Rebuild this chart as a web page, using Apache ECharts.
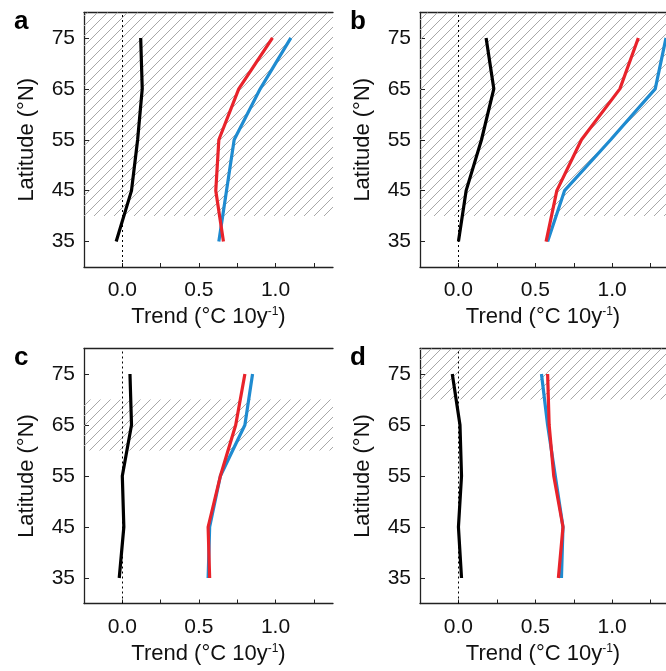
<!DOCTYPE html>
<html lang="en">
<head>
<meta charset="UTF-8">
<title>Latitude trend profiles</title>
<style>
  html, body { margin: 0; padding: 0; background: #fff; }
  #chart { width: 666px; height: 671px; }
</style>
</head>
<body>
<div id="chart"></div>
<script src="https://cdn.jsdelivr.net/npm/echarts@6/dist/echarts.min.js"></script>
<script>
// latitude levels (°N)
var lats = [35, 45, 55, 65, 75];

// trends (°C per decade), one value per latitude
var aBlack = [-0.04, 0.06, 0.10, 0.13, 0.12];
var aBlue  = [0.63, 0.68, 0.73, 0.90, 1.10];
var aRed   = [0.66, 0.61, 0.63, 0.76, 0.98];

var bBlack = [0.00, 0.05, 0.15, 0.23, 0.18];
var bBlue  = [0.58, 0.69, 0.99, 1.28, 1.35];
var bRed   = [0.57, 0.64, 0.80, 1.05, 1.17];

var cBlack = [-0.02, 0.01, 0.00, 0.06, 0.05];
var cBlue  = [0.56, 0.57, 0.64, 0.80, 0.85];
var cRed   = [0.57, 0.56, 0.64, 0.74, 0.80];

var dBlack = [0.02, 0.00, 0.02, 0.01, -0.04];
var dBlue  = [0.67, 0.68, 0.63, 0.58, 0.54];
var dRed   = [0.65, 0.68, 0.62, 0.59, 0.58];

// hatched latitude bands per panel [from, to]
var bands = [[40, 80], [40, 80], [60, 70], [70, 80]];

var panelNames = ['a', 'b', 'c', 'd'];
var yTicks = [35, 45, 55, 65, 75];
var xTicks = [0, 0.25, 0.5, 0.75, 1.0, 1.25];
var xLabels = [0, 0.5, 1.0];

var panels = [
  [aBlack, aBlue, aRed],
  [bBlack, bBlue, bRed],
  [cBlack, cBlue, cRed],
  [dBlack, dBlue, dRed]
];

// layout of the four plot boxes
var grids = [
  { left: 84,  top: 12.5,  width: 249, height: 254.5 },
  { left: 420, top: 12.5,  width: 246, height: 254.5 },
  { left: 84,  top: 348.5, width: 249, height: 255 },
  { left: 420, top: 348.5, width: 246, height: 255 }
];
var xMax = [1.375, 1.35, 1.375, 1.35];

// diagonal hatch pattern
function makeHatch() {
  var c = document.createElement('canvas');
  var s = 10;
  c.width = s; c.height = s;
  var ctx = c.getContext('2d');
  ctx.strokeStyle = '#a8a8a8';
  ctx.lineWidth = 1;
  ctx.beginPath();
  ctx.moveTo(0, s); ctx.lineTo(s, 0);
  ctx.moveTo(-s / 2, s / 2); ctx.lineTo(s / 2, -s / 2);
  ctx.moveTo(s / 2, s * 1.5); ctx.lineTo(s * 1.5, s / 2);
  ctx.stroke();
  return c;
}
var hatch = makeHatch();

var font = 'Liberation Sans, Arial, Helvetica, sans-serif';
var colors = ['#000000', '#1f8bd0', '#e8232b'];

function zip(xs) {
  return xs.map(function (v, i) { return [v, lats[i]]; });
}

var xAxes = [], yAxes = [], series = [], letters = [];

panels.forEach(function (p, k) {
  xAxes.push({
    type: 'value', gridIndex: k, min: -0.25, max: xMax[k],
    position: 'bottom',
    splitLine: { show: false },
    axisLine: { onZero: false, lineStyle: { color: '#222', width: 1.3 } },
    axisTick: { inside: true, length: 4, customValues: xTicks, lineStyle: { color: '#222' } },
    axisLabel: {
      customValues: xLabels, margin: 13, fontSize: 21, color: '#111', fontFamily: font,
      formatter: function (v) { return v.toFixed(1); }
    },
    name: 'Trend (°C 10y{sup|-1})',
    nameLocation: 'middle', nameGap: 39,
    nameTextStyle: {
      fontSize: 22, color: '#111', fontFamily: font,
      rich: { sup: { fontSize: 12, color: '#111', fontFamily: font, verticalAlign: 'top', padding: [0, 0, 10, 0] } }
    }
  });
  // top frame line
  xAxes.push({
    type: 'value', gridIndex: k, min: -0.25, max: xMax[k],
    position: 'top',
    splitLine: { show: false },
    axisLine: { onZero: false, lineStyle: { color: '#222', width: 1.3 } },
    axisTick: { show: false },
    axisLabel: { show: false }
  });
  yAxes.push({
    type: 'value', gridIndex: k, min: 30, max: 80,
    splitLine: { show: false },
    axisLine: { onZero: false, lineStyle: { color: '#222', width: 1.3 } },
    axisTick: { inside: true, length: 5, customValues: yTicks, lineStyle: { color: '#222' } },
    axisLabel: { customValues: yTicks, margin: 9, fontSize: 21, color: '#111', fontFamily: font },
    name: 'Latitude (°N)',
    nameLocation: 'middle', nameGap: 46,
    nameTextStyle: { fontSize: 22, color: '#111', fontFamily: font }
  });

  p.forEach(function (vals, j) {
    var s = {
      type: 'line',
      xAxisIndex: k * 2, yAxisIndex: k,
      data: zip(vals),
      symbol: 'none',
      silent: true,
      z: 3 + j,
      lineStyle: { color: colors[j], width: 3.2 }
    };
    if (j === 0) {
      s.markArea = {
        silent: true,
        itemStyle: { color: { image: hatch, repeat: 'repeat' } },
        data: [[{ yAxis: bands[k][0] }, { yAxis: bands[k][1] }]]
      };
      s.markLine = {
        silent: true,
        symbol: 'none',
        label: { show: false },
        lineStyle: { color: '#000', width: 1, type: [2, 3] },
        data: [{ xAxis: 0 }]
      };
    }
    series.push(s);
  });

  letters.push({
    type: 'text',
    left: grids[k].left - 70,
    top: grids[k].top - 4,
    style: { text: panelNames[k], font: 'bold 26px ' + font, fill: '#000' }
  });
});

var chart = echarts.init(document.getElementById('chart'));
chart.setOption({
  animation: false,
  backgroundColor: '#fff',
  grid: grids,
  xAxis: xAxes,
  yAxis: yAxes,
  series: series,
  graphic: letters
});
</script>
</body>
</html>
